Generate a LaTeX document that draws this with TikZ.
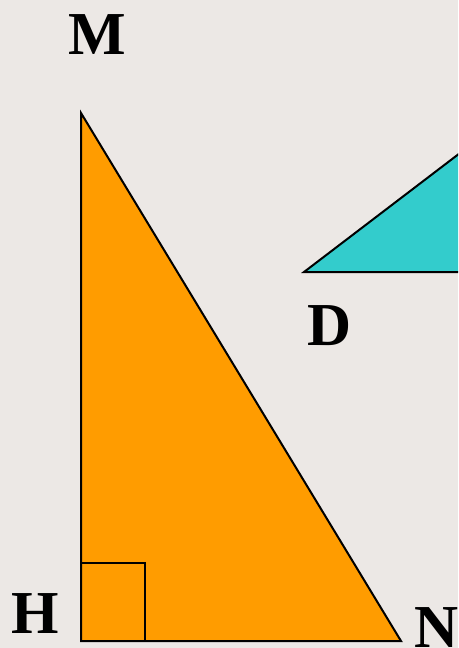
\documentclass[tikz,border=0pt]{standalone}
\usepackage{fontspec}
\setmainfont{Liberation Serif}
\definecolor{bg}{HTML}{ECE8E5}
\definecolor{orangefill}{HTML}{FF9C00}
\definecolor{cyanfill}{HTML}{33CCCC}
\begin{document}
\begin{tikzpicture}[x=1pt,y=-1pt,
  lbl/.style={font=\bfseries\fontsize{61}{61}\selectfont, inner sep=0pt, anchor=base},
  edge/.style={draw=black, line width=2pt, line join=miter}]
\fill[bg] (0,0) rectangle (458,648);
\useasboundingbox (0,0) rectangle (458,648);
\begin{scope}
\clip (0,0) rectangle (458,648);
\coordinate (M) at (81,113);
\coordinate (H) at (81,641);
\coordinate (N) at (401,641);
\coordinate (D) at (304,272);
\coordinate (E) at (620,272);
\coordinate (F) at (620,31);
\filldraw[fill=cyanfill, edge] (D) -- (F) -- (E) -- cycle;
\filldraw[fill=orangefill, edge] (M) -- (H) -- (N) -- cycle;
\coordinate (S1) at (81,563);
\coordinate (S2) at (145,563);
\coordinate (S3) at (145,641);
\draw[edge, line width=1.6pt] (S1) -- (S2) -- (S3);
\node[lbl] (lM) at (97,54) {M};
\node[lbl] (lH) at (35,633) {H};
\node[lbl] (lD) at (330,345) {D};
\node[lbl, anchor=base west] (lN) at (414,647) {N};
\end{scope}
\end{tikzpicture}
\end{document}
